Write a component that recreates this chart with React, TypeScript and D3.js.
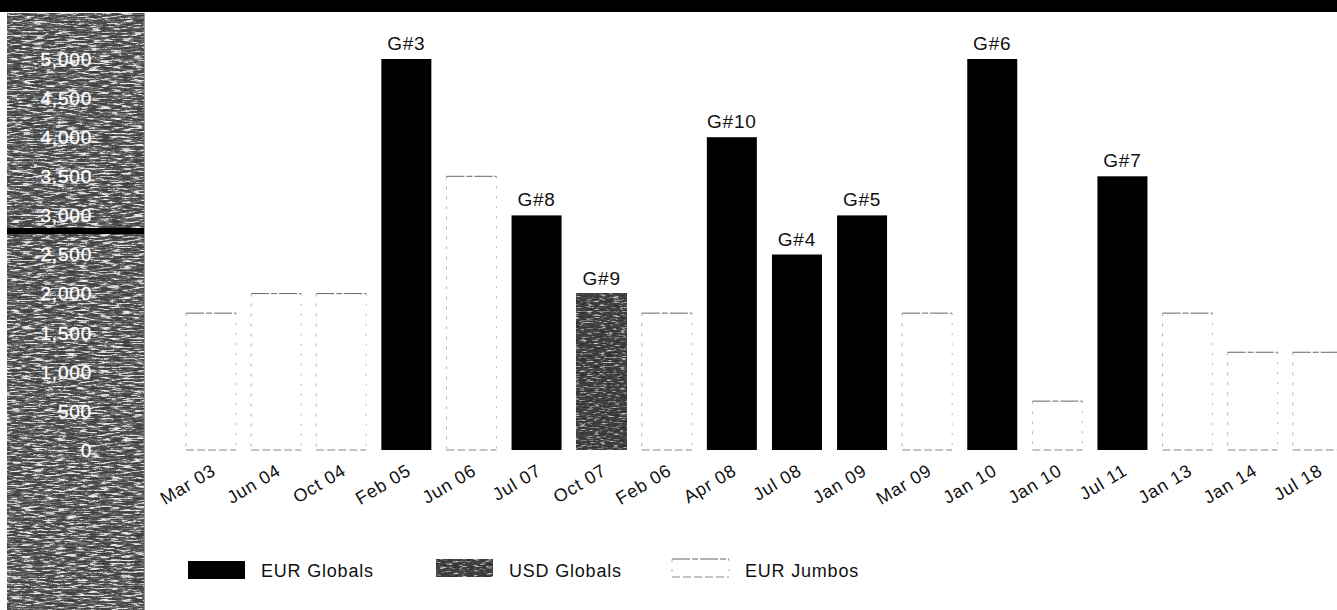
import React from "react";
import * as d3 from "d3";

const categories = ["Mar 03","Jun 04","Oct 04","Feb 05","Jun 06","Jul 07","Oct 07","Feb 06","Apr 08","Jul 08","Jan 09","Mar 09","Jan 10","Jan 10","Jul 11","Jan 13","Jan 14","Jul 18"];
const values = [1750,2000,2000,5000,3500,3000,2000,1750,4000,2500,3000,1750,5000,625,3500,1750,1250,1250];
const seriesType = ["J","J","J","E","J","E","U","J","E","E","E","J","E","J","E","J","J","J"];
const barLabels = ["","","","G#3","","G#8","G#9","","G#10","G#4","G#5","","G#6","","G#7","","",""];
const yTicks = [0,500,1000,1500,2000,2500,3000,3500,4000,4500,5000];
const legendItems = [
  { key: "E", label: "EUR Globals" },
  { key: "U", label: "USD Globals" },
  { key: "J", label: "EUR Jumbos" },
];

const W = 1337, H = 610;
const FONT = "'Liberation Sans', Arial, Helvetica, sans-serif";

export default function App() {
  const idx = categories.map((_, i) => i);
  const x = d3.scaleBand<number>().domain(idx).range([178.5, 178.5 + 18 * 65.1]).paddingInner(0.232).paddingOuter(0.116);
  const y = d3.scaleLinear().domain([0, 5000]).range([450, 59]);
  const bw = x.bandwidth();
  const fmt = d3.format(",");
  const legendX = [188, 436, 672];
  const legendYs = [561, 559, 559];

  const jumboRect = (x0: number, y0: number, w: number, h: number, k: string) => (
    <g key={k}>
      <line x1={x0} y1={y0} x2={x0} y2={y0 + h} stroke="#b5b5b5" strokeWidth={1} strokeDasharray="3 7" />
      <line x1={x0 + w} y1={y0} x2={x0 + w} y2={y0 + h} stroke="#b5b5b5" strokeWidth={1} strokeDasharray="2 8" />
      <line x1={x0} y1={y0} x2={x0 + w} y2={y0} stroke="#666" strokeWidth={1} strokeDasharray="18 2 6 2" />
      <line x1={x0} y1={y0 + h} x2={x0 + w} y2={y0 + h} stroke="#888" strokeWidth={1} strokeDasharray="8 3" />
    </g>
  );

  return (
    <svg width={W} height={H} style={{ position: "absolute", left: 0, top: 0, background: "#fff" }} fontFamily={FONT}>
      <defs>
        <filter id="stripNoise" x="0%" y="0%" width="100%" height="100%" filterUnits="objectBoundingBox">
          <feTurbulence type="fractalNoise" baseFrequency="0.09 0.6" numOctaves={3} seed={7} result="t" />
          <feColorMatrix in="t" type="matrix" values="1 0 0 0 0  1 0 0 0 0  1 0 0 0 0  0 0 0 0 1" />
          <feComponentTransfer>
            <feFuncR type="discrete" tableValues="0.04 0.04 0.05 0.06 0.08 0.18 0.55 0.8 0.88 0.88" />
            <feFuncG type="discrete" tableValues="0.04 0.04 0.05 0.06 0.08 0.18 0.55 0.8 0.88 0.88" />
            <feFuncB type="discrete" tableValues="0.04 0.04 0.05 0.06 0.08 0.18 0.55 0.8 0.88 0.88" />
          </feComponentTransfer>
        </filter>
        <filter id="usdNoise" x="0%" y="0%" width="100%" height="100%" filterUnits="objectBoundingBox">
          <feTurbulence type="fractalNoise" baseFrequency="0.15 0.8" numOctaves={2} seed={3} result="t" />
          <feColorMatrix in="t" type="matrix" values="1 0 0 0 0  1 0 0 0 0  1 0 0 0 0  0 0 0 0 1" />
          <feComponentTransfer>
            <feFuncR type="discrete" tableValues="0.03 0.03 0.03 0.04 0.05 0.07 0.2 0.45 0.6 0.6" />
            <feFuncG type="discrete" tableValues="0.03 0.03 0.03 0.04 0.05 0.07 0.2 0.45 0.6 0.6" />
            <feFuncB type="discrete" tableValues="0.03 0.03 0.03 0.04 0.05 0.07 0.2 0.45 0.6 0.6" />
          </feComponentTransfer>
        </filter>
      </defs>

      {/* top black band */}
      <rect x={0} y={0} width={W} height={12} fill="#000" />

      {/* left textured strip */}
      <rect x={7} y={13} width={137} height={H - 13} fill="#333" filter="url(#stripNoise)" />
      <rect x={7} y={228} width={137} height={6} fill="#000" />
      <line x1={144.5} y1={13} x2={144.5} y2={H} stroke="#999" strokeWidth={1} />

      {/* y tick labels */}
      {yTicks.map((t) => (
        <text key={t} x={92} y={y(t)} dy="0.36em" textAnchor="end" fill="#fff" stroke="#fff" strokeWidth={0.3} fontSize={19} letterSpacing={0.8}>
          {fmt(t)}
        </text>
      ))}

      {/* bars */}
      {values.map((v, i) => {
        const x0 = x(i)!;
        const y0 = y(v);
        const h = y(0) - y0;
        const t = seriesType[i];
        if (t === "E") return <rect key={i} x={x0} y={y0} width={bw} height={h} fill="#000" />;
        if (t === "U") return <rect key={i} x={x0} y={y0} width={bw} height={h} fill="#111" filter="url(#usdNoise)" />;
        return jumboRect(x0, y0, bw, h, "j" + i);
      })}

      {/* bar labels */}
      {values.map((v, i) =>
        barLabels[i] ? (
          <text key={"l" + i} x={x(i)! + bw / 2} y={y(v) - 9} textAnchor="middle" fontSize={19} letterSpacing={0.8} fill="#111">
            {barLabels[i]}
          </text>
        ) : null
      )}

      {/* x labels */}
      {categories.map((c, i) => {
        const cx = x(i)! + bw / 2 + 6;
        const cy = 474;
        return (
          <text key={"x" + i} x={cx} y={cy} textAnchor="end" fontSize={18} letterSpacing={0.8} fill="#111" transform={`rotate(-31 ${cx} ${cy})`}>
            {c}
          </text>
        );
      })}

      {/* legend */}
      {legendItems.map((it, k) => {
        const lx = legendX[k];
        const ly = legendYs[k];
        return (
          <g key={it.key}>
            {it.key === "E" && <rect x={lx} y={ly} width={57} height={18} fill="#000" />}
            {it.key === "U" && <rect x={lx} y={ly} width={57} height={18} fill="#111" filter="url(#usdNoise)" />}
            {it.key === "J" && jumboRect(lx, ly, 57, 18, "lj")}
            <text x={lx + 73} y={577} fontSize={18} letterSpacing={0.8} fill="#111">
              {it.label}
            </text>
          </g>
        );
      })}
    </svg>
  );
}
